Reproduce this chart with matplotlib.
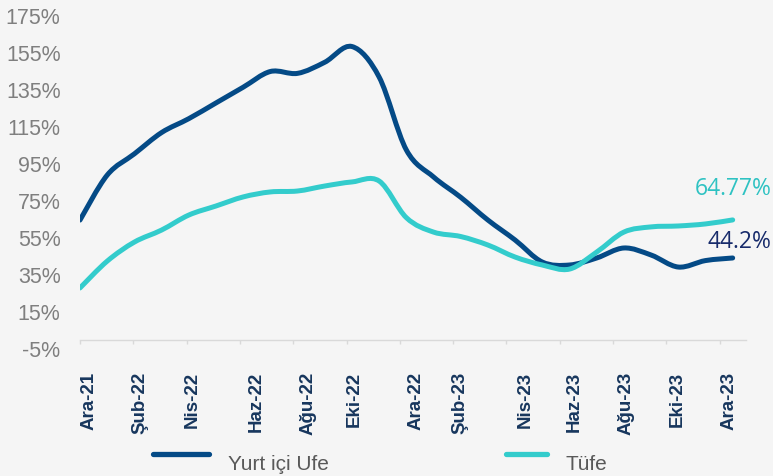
import matplotlib
matplotlib.use("Agg")
import matplotlib.pyplot as plt
from matplotlib.path import Path
from matplotlib.patches import PathPatch
from matplotlib.lines import Line2D
import numpy as np

# monthly values, Ara-21 .. Ara-23
months = np.arange(25)
yurt_ici_ufe = [64.7, 89.0, 100.5, 112.0, 119.5, 128.0, 136.5, 145.0, 144.0, 150.0,
                158.5, 142.0, 102.6, 88.0, 77.0, 64.7, 53.9, 42.0, 40.4, 44.2,
                49.6, 45.8, 39.3, 42.8, 44.2]
tufe = [28.0, 42.5, 52.8, 59.3, 67.4, 72.3, 77.2, 79.9, 80.4, 83.1,
        85.3, 85.8, 66.0, 58.2, 55.8, 51.2, 44.7, 40.4, 38.2, 47.4,
        58.2, 61.0, 61.5, 62.6, 64.77]

tick_labels = ["Ara-21", "Şub-22", "Nis-22", "Haz-22", "Ağu-22", "Eki-22", "Ara-22",
               "Şub-23", "Nis-23", "Haz-23", "Ağu-23", "Eki-23", "Ara-23"]
label_pos = [0.33, 2.2, 4.12, 6.47, 8.38, 10.1, 12.35, 13.97, 16.36, 18.16, 20.07, 21.95, 23.86]
yticks = list(range(-5, 176, 20))

ufe_color = "#044a86"
tufe_color = "#33cccc"
bg = "#f5f5f5"


def smooth_path(x, y):
    # Catmull-Rom style bezier through the points (like Excel "smoothed line")
    pts = np.column_stack([x, y]).astype(float)
    ext = np.vstack([pts[0], pts, pts[-1]])
    verts = [pts[0]]
    codes = [Path.MOVETO]
    for i in range(len(pts) - 1):
        p0, p1, p2, p3 = ext[i], ext[i + 1], ext[i + 2], ext[i + 3]
        verts += [p1 + (p2 - p0) / 6, p2 - (p3 - p1) / 6, p2]
        codes += [Path.CURVE4] * 3
    return Path(verts, codes)


fig = plt.figure(figsize=(7.73, 4.76), dpi=100, facecolor=bg)
ax = fig.add_axes([80 / 773, 127 / 476, 666 / 773, 333 / 476], facecolor=bg)

for vals, col in [(yurt_ici_ufe, ufe_color), (tufe, tufe_color)]:
    ax.add_patch(PathPatch(smooth_path(months, vals), fill=False, edgecolor=col,
                           lw=3.6, capstyle="round", joinstyle="round"))

ax.set_xlim(0, 24.49)
ax.set_ylim(-5, 175)

for s in ["left", "top", "right"]:
    ax.spines[s].set_visible(False)
ax.spines["bottom"].set_position(("data", 0))
ax.spines["bottom"].set_color("#d9d9d9")
ax.spines["bottom"].set_linewidth(1)

ax.set_yticks(yticks)
ax.set_yticklabels([f"{v}%" for v in yticks], family="Liberation Sans")
ax.tick_params(axis="y", length=0, pad=14, labelsize=15.5, labelcolor="#7f7f7f")

ax.set_xticks(label_pos)
ax.set_xticklabels(tick_labels, rotation=90, fontweight="bold", family="Liberation Sans")
ax.tick_params(axis="x", which="major", length=0, pad=23, labelsize=13.5, labelcolor="#17365d")
ax.set_xticks(np.arange(13) * 1.96, minor=True)
ax.tick_params(axis="x", which="minor", length=3, width=1, color="#d9d9d9")

ax.annotate(f"{tufe[-1]}%", xy=(months[-1], tufe[-1]), xytext=(28, 22.5),
            textcoords="offset points", ha="right", va="center", fontsize=16.5,
            family="Open Sans", color="#2ec2c2", annotation_clip=False)
ax.annotate(f"{yurt_ici_ufe[-1]}%", xy=(months[-1], yurt_ici_ufe[-1]), xytext=(28, 11.5),
            textcoords="offset points", ha="right", va="center", fontsize=16.5,
            family="Open Sans", color="#172b6b", annotation_clip=False)

# legend at the bottom
W, H = 773, 476
for (x0, x1), tx, name, col in [((153, 209), 228, "Yurt içi Ufe", ufe_color),
                                 ((506, 547), 565, "Tüfe", tufe_color)]:
    fig.add_artist(Line2D([x0 / W, x1 / W], [(H - 454) / H] * 2, color=col, lw=3.8,
                          solid_capstyle="round"))
    fig.text(tx / W, (H - 464) / H, name, ha="left", va="center", fontsize=15,
             family="Liberation Sans", color="#595959")

fig.savefig("out.png", dpi=100, facecolor=bg)
